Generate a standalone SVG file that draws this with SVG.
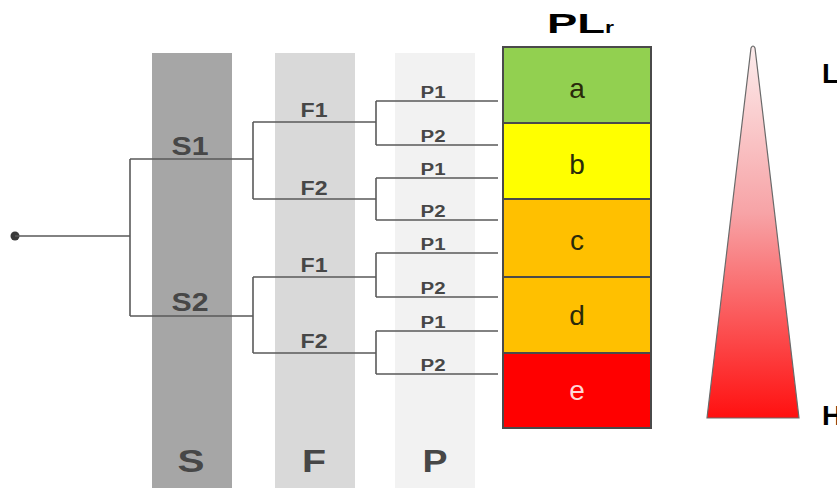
<svg xmlns="http://www.w3.org/2000/svg" width="837" height="488" viewBox="0 0 837 488">
<defs>
<linearGradient id="tri" x1="0" y1="0" x2="0" y2="1">
<stop offset="0" stop-color="#fcecec"/>
<stop offset="0.45" stop-color="#f7a3a6"/>
<stop offset="1" stop-color="#ff1010"/>
</linearGradient>
<style>
.lbl{font-family:"Liberation Sans",Arial,sans-serif;font-weight:bold;fill:#474747;text-anchor:middle}
.wire{fill:none;stroke:#5a5a5a;stroke-width:1.6}
.box{stroke:#4a4a4a;stroke-width:2}
.let{font-family:"Liberation Sans",Arial,sans-serif;font-size:28px;text-anchor:middle;fill:#2a2a0a}
.big{font-family:"Liberation Sans",Arial,sans-serif;font-weight:bold;fill:#000}
</style>
</defs>
<rect width="837" height="488" fill="#fff"/>
<g id="columns">
<rect x="152" y="53" width="80" height="435" fill="#a6a6a6"/>
<rect x="275" y="53" width="80" height="435" fill="#d9d9d9"/>
<rect x="395" y="53" width="80" height="435" fill="#f2f2f2"/>
<text class="lbl" x="191" y="472" font-size="32" textLength="27" lengthAdjust="spacingAndGlyphs">S</text>
<text class="lbl" x="314" y="472" font-size="32" textLength="24" lengthAdjust="spacingAndGlyphs">F</text>
<text class="lbl" x="435" y="472" font-size="32" textLength="25" lengthAdjust="spacingAndGlyphs">P</text>
</g>
<g id="connectors">
<circle cx="15" cy="236" r="4.5" fill="#3a3a3a"/>
<path class="wire" d="M15 236H130M130 159V316M130 159H253M130 316H253"/>
<path class="wire" d="M253 122V199M253 122H376M253 199H376M253 277V353M253 277H376M253 353H376"/>
<path class="wire" d="M376 101V145M376 101H498M376 145H498M376 178V220M376 178H498M376 220H498"/>
<path class="wire" d="M376 253V297M376 253H498M376 297H498M376 331V374M376 331H498M376 374H498"/>
</g>
<g id="labels">
<text class="lbl" x="190" y="155" font-size="26" textLength="37" lengthAdjust="spacingAndGlyphs">S1</text>
<text class="lbl" x="190" y="311" font-size="26" textLength="37" lengthAdjust="spacingAndGlyphs">S2</text>
<text class="lbl" x="314" y="117" font-size="21" textLength="27" lengthAdjust="spacingAndGlyphs">F1</text>
<text class="lbl" x="314" y="195" font-size="21" textLength="27" lengthAdjust="spacingAndGlyphs">F2</text>
<text class="lbl" x="314" y="272" font-size="21" textLength="27" lengthAdjust="spacingAndGlyphs">F1</text>
<text class="lbl" x="314" y="348" font-size="21" textLength="27" lengthAdjust="spacingAndGlyphs">F2</text>
<text class="lbl" x="433" y="98" font-size="16" textLength="25" lengthAdjust="spacingAndGlyphs">P1</text>
<text class="lbl" x="433" y="142" font-size="16" textLength="25" lengthAdjust="spacingAndGlyphs">P2</text>
<text class="lbl" x="433" y="175" font-size="16" textLength="25" lengthAdjust="spacingAndGlyphs">P1</text>
<text class="lbl" x="433" y="217" font-size="16" textLength="25" lengthAdjust="spacingAndGlyphs">P2</text>
<text class="lbl" x="433" y="250" font-size="16" textLength="25" lengthAdjust="spacingAndGlyphs">P1</text>
<text class="lbl" x="433" y="294" font-size="16" textLength="25" lengthAdjust="spacingAndGlyphs">P2</text>
<text class="lbl" x="433" y="328" font-size="16" textLength="25" lengthAdjust="spacingAndGlyphs">P1</text>
<text class="lbl" x="433" y="371" font-size="16" textLength="25" lengthAdjust="spacingAndGlyphs">P2</text>
</g>
<g id="plr">
<text class="big" x="547" y="33" font-size="28" textLength="58" lengthAdjust="spacingAndGlyphs">PL</text>
<text class="big" x="605" y="33" font-size="17" textLength="9" lengthAdjust="spacingAndGlyphs">r</text>
</g>
<g id="a"><rect class="box" x="503" y="47" width="148" height="76" fill="#92d050"/><text class="let" x="577" y="98">a</text></g>
<g id="b"><rect class="box" x="503" y="123" width="148" height="76" fill="#ffff00"/><text class="let" x="577" y="174">b</text></g>
<g id="c"><rect class="box" x="503" y="199" width="148" height="78" fill="#ffc000"/><text class="let" x="577" y="250">c</text></g>
<g id="d"><rect class="box" x="503" y="277" width="148" height="76" fill="#ffc000"/><text class="let" x="577" y="325">d</text></g>
<g id="e"><rect class="box" x="503" y="353" width="148" height="75" fill="#ff0000"/><text class="let" x="577" y="400" style="fill:#ffd6d6">e</text></g>
<g id="scale">
<path d="M751 48Q753 44 755 48L799 418H707Z" fill="url(#tri)" stroke="#6a6a6a" stroke-width="1.2"/>
<text class="big" x="822" y="83" font-size="28">L</text>
<text class="big" x="822" y="425" font-size="28">H</text>
</g>
</svg>
